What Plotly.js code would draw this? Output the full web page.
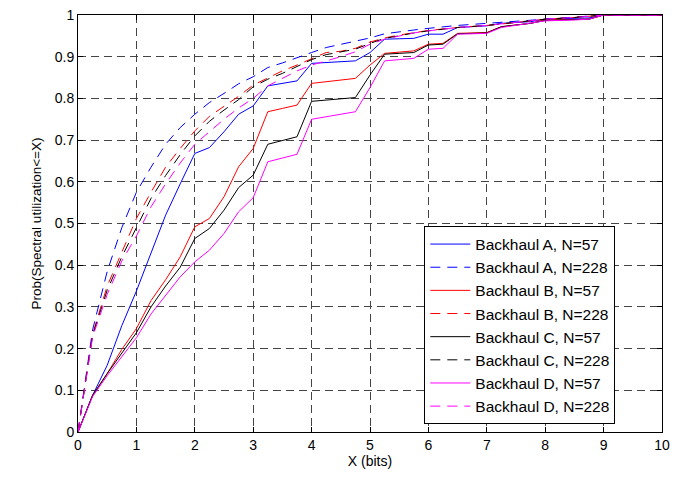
<!DOCTYPE html>
<html>
<head>
<meta charset="utf-8">
<script src="https://cdn.plot.ly/plotly-3.0.1.min.js"></script>
<style>html,body{margin:0;padding:0;background:#fff;}#chart{width:683px;height:477px;}</style>
</head>
<body>
<div id="chart"></div>
<script>
// Quarter-step x grid shared by the N=57 curves
const xSolid = [0,0.25,0.5,0.75,1,1.25,1.5,1.75,2,2.25,2.5,2.75,3,3.25,3.5,3.75,4,4.25,4.5,4.75,5,5.25,5.5,5.75,6,6.25,6.5,6.75,7,7.25,7.5,7.75,8,8.5,8.75,9,10];
const a57 = [0,0.088,0.16,0.255,0.338,0.43,0.52,0.595,0.668,0.682,0.72,0.762,0.782,0.83,0.836,0.842,0.884,0.886,0.888,0.89,0.91,0.942,0.943,0.944,0.954,0.954,0.97,0.972,0.974,0.98,0.982,0.984,0.99,0.992,0.993,1,1];
const b57 = [0,0.088,0.14,0.198,0.248,0.315,0.365,0.42,0.492,0.512,0.564,0.636,0.68,0.768,0.776,0.784,0.836,0.84,0.844,0.848,0.88,0.908,0.911,0.914,0.93,0.932,0.956,0.957,0.958,0.972,0.976,0.98,0.988,0.989,0.99,1,1];
const c57 = [0,0.088,0.14,0.19,0.238,0.3,0.35,0.395,0.464,0.488,0.532,0.586,0.616,0.69,0.699,0.708,0.793,0.796,0.799,0.802,0.856,0.906,0.908,0.91,0.928,0.93,0.955,0.956,0.957,0.972,0.976,0.98,0.987,0.988,0.99,1,1];
const d57 = [0,0.085,0.135,0.18,0.226,0.283,0.328,0.372,0.408,0.436,0.476,0.528,0.562,0.648,0.657,0.666,0.75,0.756,0.762,0.768,0.826,0.89,0.893,0.896,0.918,0.92,0.954,0.955,0.956,0.97,0.975,0.98,0.986,0.988,0.99,1,1];

// x grid shared by the N=228 curves
const xDash = [0,0.25,0.5,0.75,1,1.25,1.5,1.75,2,2.25,2.5,2.75,3,3.25,3.5,3.75,4,4.25,4.5,4.75,5,5.25,5.5,5.75,6,6.5,7,7.5,8,8.5,9,10];
const a228 = [0,0.245,0.385,0.49,0.575,0.635,0.69,0.73,0.762,0.79,0.812,0.835,0.852,0.874,0.885,0.898,0.91,0.922,0.93,0.937,0.945,0.955,0.96,0.964,0.968,0.975,0.98,0.985,0.99,0.995,1,1];
const b228 = [0,0.235,0.35,0.432,0.512,0.575,0.635,0.68,0.722,0.757,0.78,0.805,0.832,0.85,0.866,0.88,0.895,0.91,0.913,0.92,0.935,0.945,0.952,0.958,0.963,0.97,0.975,0.982,0.99,0.994,1,1];
const c228 = [0,0.232,0.34,0.42,0.49,0.56,0.615,0.665,0.71,0.745,0.772,0.797,0.828,0.846,0.86,0.876,0.893,0.905,0.912,0.918,0.932,0.944,0.95,0.957,0.962,0.97,0.975,0.982,0.99,0.994,1,1];
const d228 = [0,0.228,0.33,0.41,0.47,0.54,0.595,0.645,0.69,0.72,0.75,0.777,0.8,0.83,0.848,0.866,0.88,0.89,0.9,0.912,0.93,0.942,0.95,0.957,0.962,0.97,0.975,0.982,0.99,0.994,1,1];

const names = ["Backhaul A, N=57","Backhaul A, N=228","Backhaul B, N=57","Backhaul B, N=228","Backhaul C, N=57","Backhaul C, N=228","Backhaul D, N=57","Backhaul D, N=228"];
const colors = ["#0000FF","#FF0000","#000000","#FF00FF"];

const series = [[xSolid,a57],[xDash,a228],[xSolid,b57],[xDash,b228],[xSolid,c57],[xDash,c228],[xSolid,d57],[xDash,d228]];
const traces = series.map((s,i)=>({
  x: s[0], y: s[1], type: 'scatter', mode: 'lines', name: names[i],
  line: {color: colors[Math.floor(i/2)], width: 1, dash: (i%2===1) ? '10px,7px' : 'solid'}
}));

const axisCommon = {
  showline: true, linecolor: '#000', linewidth: 1, mirror: 'ticks',
  ticks: 'inside', ticklen: 5, tickcolor: '#000',
  showgrid: true, gridcolor: '#444', gridwidth: 1, griddash: '8px,5px',
  zeroline: false, tickfont: {size: 14, color: '#000'}
};

const layout = {
  width: 683, height: 477,
  margin: {l: 78, r: 21, t: 15, b: 45},
  paper_bgcolor: '#fff', plot_bgcolor: '#fff',
  font: {family: 'Liberation Sans, Arial, sans-serif', size: 14, color: '#000'},
  showlegend: true,
  legend: {x: 0.593, y: 0.018, xanchor: 'left', yanchor: 'bottom', bgcolor: '#fff', bordercolor: '#000', borderwidth: 1, font: {size: 15.5}, itemwidth: 40},
  xaxis: Object.assign({}, axisCommon, {range: [0,10], dtick: 1, title: {text: 'X (bits)', font: {size: 14}, standoff: 4}}),
  yaxis: Object.assign({}, axisCommon, {range: [0,1], dtick: 0.1, title: {text: 'Prob(Spectral utilization<=X)', font: {size: 13.5}, standoff: 10}})
};

Plotly.newPlot('chart', traces, layout, {displayModeBar: false, staticPlot: true});
</script>
</body>
</html>
